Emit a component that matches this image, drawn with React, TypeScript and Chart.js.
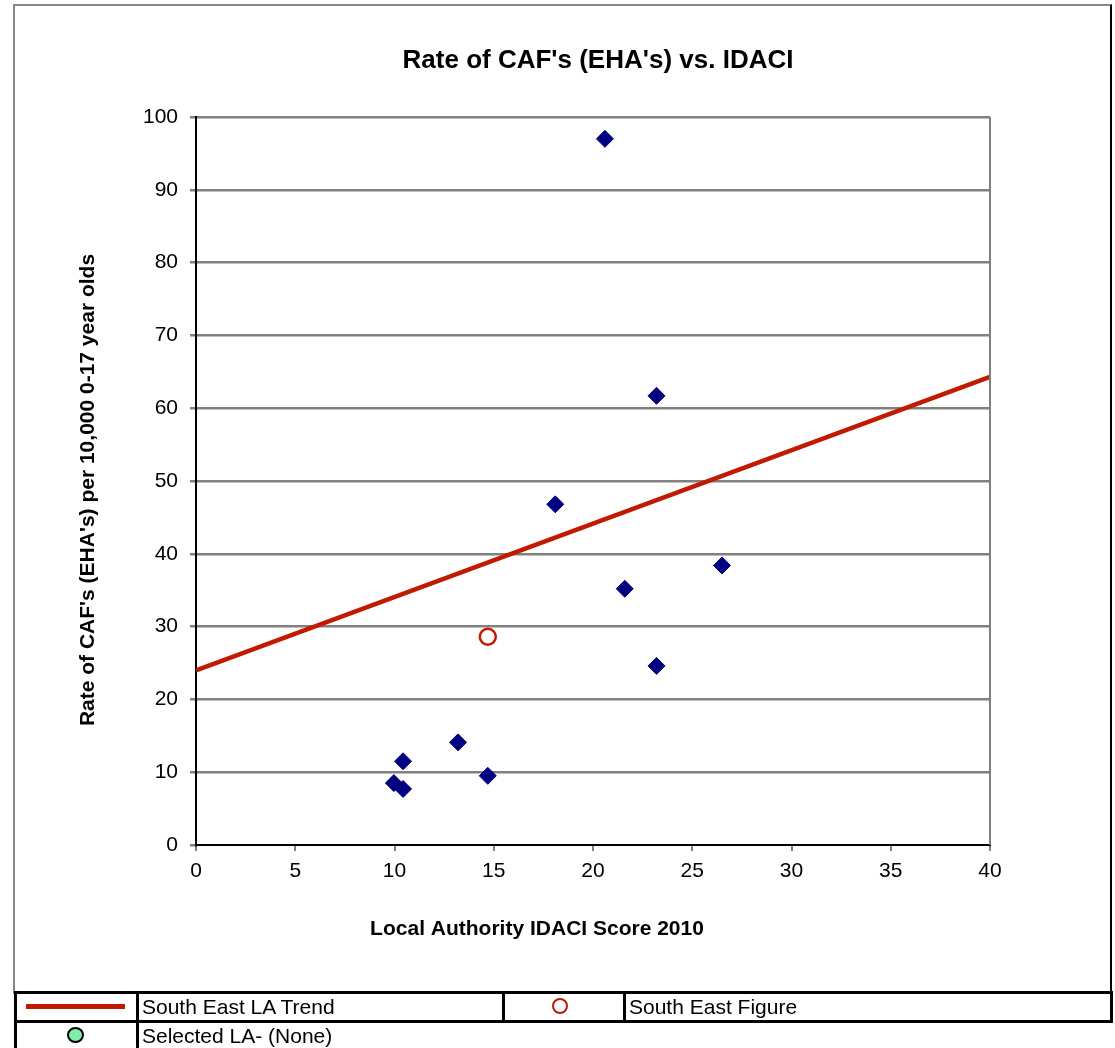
import React, { useEffect, useRef } from "react";
import { Chart, registerables } from "chart.js";

Chart.register(...registerables);

// ---- Data ----
const idaciScores: number[] = [9.97, 10.43, 10.43, 13.2, 14.7, 18.1, 20.6, 21.6, 23.2, 23.2, 26.5];
const cafRates: number[] = [8.5, 7.7, 11.5, 14.1, 9.5, 46.8, 97.0, 35.2, 61.7, 24.6, 38.4];
const southEastFigure = { x: 14.7, y: 28.6 };
const trendX: number[] = [0, 40];
const trendY: number[] = [24.0, 64.3];
const xTicks: number[] = [0, 5, 10, 15, 20, 25, 30, 35, 40];
const yTicks: number[] = [0, 10, 20, 30, 40, 50, 60, 70, 80, 90, 100];

const chartTitle = "Rate of CAF's (EHA's) vs. IDACI";
const xAxisTitle = "Local Authority IDACI Score 2010";
const yAxisTitle = "Rate of CAF's (EHA's) per 10,000 0-17 year olds";

const FONT = '"Liberation Sans", Arial, sans-serif';
const NAVY = "#000080";
const RED = "#C01A00";

const titlesPlugin = {
  id: "titlesPlugin",
  afterDraw(chart: any) {
    const { ctx, chartArea } = chart;
    ctx.save();
    // right border of plot area
    ctx.strokeStyle = "#808080";
    ctx.lineWidth = 2;
    ctx.beginPath();
    ctx.moveTo(chartArea.right, chartArea.top);
    ctx.lineTo(chartArea.right, chartArea.bottom);
    ctx.stroke();

    ctx.fillStyle = "#000";
    ctx.textAlign = "center";
    ctx.textBaseline = "middle";
    ctx.font = `bold 26px ${FONT}`;
    ctx.fillText(chartTitle, 598, 61);
    ctx.font = `bold 21px ${FONT}`;
    ctx.fillText(xAxisTitle, 537, 929);
    ctx.translate(88, 490);
    ctx.rotate(-Math.PI / 2);
    ctx.fillText(yAxisTitle, 0, 0);
    ctx.restore();
  },
};

export default function App() {
  const canvasRef = useRef<HTMLCanvasElement | null>(null);

  useEffect(() => {
    if (!canvasRef.current) return;
    const chart = new Chart(canvasRef.current, {
      type: "scatter",
      data: {
        datasets: [
          {
            label: "South East LA Trend",
            type: "line",
            data: trendX.map((x, i) => ({ x, y: trendY[i] })),
            borderColor: RED,
            borderWidth: 4.5,
            pointRadius: 0,
            fill: false,
            order: 2,
          } as any,
          {
            label: "Local Authorities",
            data: idaciScores.map((x, i) => ({ x, y: cafRates[i] })),
            pointStyle: "rectRot",
            pointRadius: 8.5,
            backgroundColor: NAVY,
            borderColor: NAVY,
            borderWidth: 1,
            order: 1,
          },
          {
            label: "South East Figure",
            data: [southEastFigure],
            pointStyle: "circle",
            pointRadius: 8,
            backgroundColor: "#ffffff",
            borderColor: RED,
            borderWidth: 2.5,
            order: 0,
          },
        ],
      },
      options: {
        responsive: false,
        animation: false,
        devicePixelRatio: 1,
        layout: { padding: { top: 117, right: 125, left: 0, bottom: 0 } },
        plugins: {
          legend: { display: false },
          title: { display: false },
          tooltip: { enabled: false },
        },
        scales: {
          x: {
            type: "linear",
            min: 0,
            max: 40,
            afterFit(scale: any) {
              scale.height = 148;
            },
            afterBuildTicks(scale: any) {
              scale.ticks = xTicks.map((v) => ({ value: v }));
            },
            grid: {
              display: true,
              drawOnChartArea: false,
              color: "#808080",
              tickColor: "#808080",
              tickLength: 6,
              lineWidth: 2,
            },
            border: { display: true, color: "#000", width: 2 },
            ticks: {
              color: "#000",
              font: { family: FONT, size: 21 },
              padding: 8,
              maxRotation: 0,
            },
          },
          y: {
            type: "linear",
            min: 0,
            max: 100,
            afterFit(scale: any) {
              scale.width = 196;
            },
            afterBuildTicks(scale: any) {
              scale.ticks = yTicks.map((v) => ({ value: v }));
            },
            grid: {
              display: true,
              color: (c: any) => (c.tick && c.tick.value === 0 ? "transparent" : "#808080"),
              tickColor: "#808080",
              tickLength: 6,
              lineWidth: 2.5,
            },
            border: { display: true, color: "#000", width: 2 },
            ticks: {
              color: "#000",
              font: { family: FONT, size: 21 },
              padding: 12,
            },
          },
        },
      },
      plugins: [titlesPlugin],
    } as any);
    return () => chart.destroy();
  }, []);

  const cellText: React.CSSProperties = {
    position: "absolute",
    fontFamily: FONT,
    fontSize: 21,
    color: "#000",
    lineHeight: "27px",
    whiteSpace: "nowrap",
  };
  const vline = (x: number, top: number, h: number): React.CSSProperties => ({
    position: "absolute",
    left: x,
    top,
    width: 3,
    height: h,
    background: "#000",
  });

  return (
    <div style={{ position: "absolute", left: 0, top: 0, width: 1115, height: 1048, background: "#fff", overflow: "hidden" }}>
      <canvas ref={canvasRef} width={1115} height={993} style={{ position: "absolute", left: 0, top: 0, width: 1115, height: 993 }} />
      {/* outer chart border */}
      <div
        style={{
          position: "absolute",
          left: 13,
          top: 4,
          width: 1099,
          height: 990,
          borderLeft: "2px solid #888",
          borderTop: "2px solid #888",
          borderRight: "2px solid #000",
          boxSizing: "border-box",
          pointerEvents: "none",
        }}
      />
      {/* legend table */}
      <div style={{ position: "absolute", left: 14, top: 991, width: 1099, height: 3, background: "#000" }} />
      <div style={{ position: "absolute", left: 14, top: 1020, width: 1099, height: 3, background: "#000" }} />
      <div style={vline(14, 991, 57)} />
      <div style={vline(136, 991, 57)} />
      <div style={vline(502, 991, 30)} />
      <div style={vline(623, 991, 30)} />
      <div style={vline(1110, 991, 32)} />
      <div style={{ position: "absolute", left: 26, top: 1004, width: 99, height: 5, background: RED }} />
      <div style={{ ...cellText, left: 142, top: 993 }}>South East LA Trend</div>
      <div
        style={{
          position: "absolute",
          left: 552,
          top: 998,
          width: 16,
          height: 16,
          borderRadius: "50%",
          border: `2.5px solid ${RED}`,
          boxSizing: "border-box",
          background: "#fff",
        }}
      />
      <div style={{ ...cellText, left: 629, top: 993 }}>South East Figure</div>
      <div
        style={{
          position: "absolute",
          left: 67,
          top: 1027,
          width: 17,
          height: 16,
          borderRadius: "50%",
          border: "2.5px solid #000",
          boxSizing: "border-box",
          background: "#7CF0A8",
        }}
      />
      <div style={{ ...cellText, left: 142, top: 1022 }}>Selected LA- (None)</div>
    </div>
  );
}
